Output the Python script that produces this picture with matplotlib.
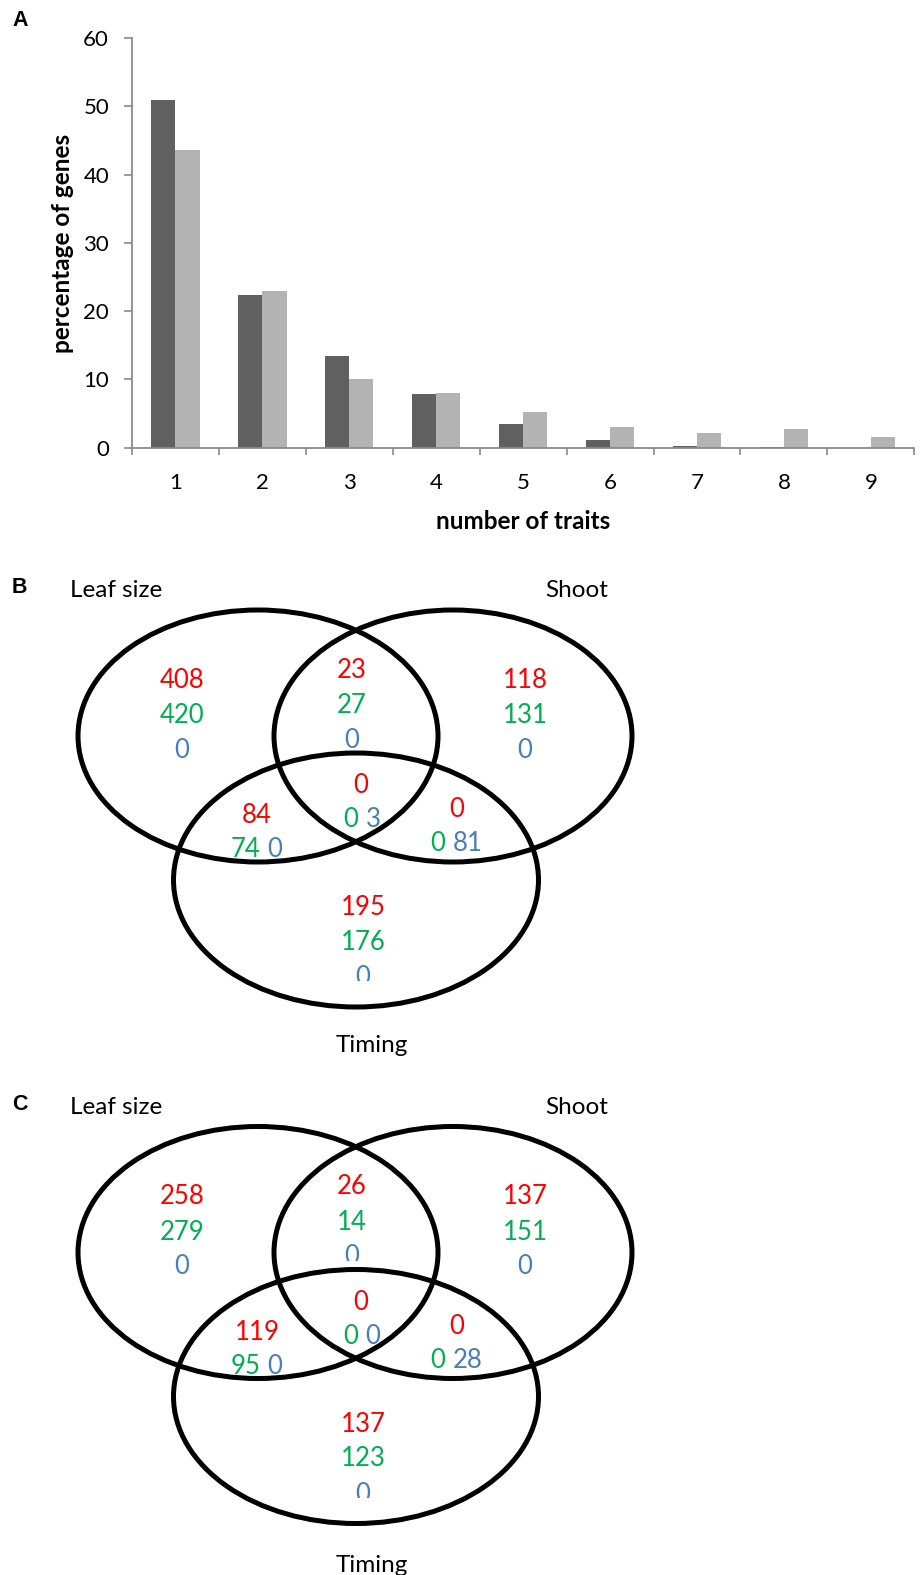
import numpy as np
import matplotlib
matplotlib.use("Agg")
import matplotlib.pyplot as plt
from matplotlib.patches import Ellipse, Rectangle

# panel A: share of genes by number of traits
traits = [1, 2, 3, 4, 5, 6, 7, 8, 9]
pct_dark = [50.9, 22.4, 13.4, 7.8, 3.5, 1.1, 0.25, 0.1, 0.0]
pct_light = [43.6, 23.0, 10.0, 8.0, 5.3, 3.1, 2.1, 2.7, 1.5]

# panels B and C: venn counts, region order:
# leaf only, leaf&shoot, shoot only, leaf&timing, all three, shoot&timing, timing only
set_names = ["Leaf size", "Shoot", "Timing"]
b_red = [408, 23, 118, 84, 0, 0, 195]
b_green = [420, 27, 131, 74, 0, 0, 176]
b_blue = [0, 0, 0, 0, 3, 81, 0]
c_red = [258, 26, 137, 119, 0, 0, 137]
c_green = [279, 14, 151, 95, 0, 0, 123]
c_blue = [0, 0, 0, 0, 0, 28, 0]

RED, GREEN, BLUE = "#ff0000", "#00b050", "#4a7ebb"
FONT = "Lato"

W, H = 922, 1575
fig = plt.figure(figsize=(W / 100, H / 100), dpi=100)

# full-figure canvas in pixel coordinates for venn panels and labels
canvas = fig.add_axes([0, 0, 1, 1])
canvas.set_xlim(0, W)
canvas.set_ylim(H, 0)
canvas.axis("off")


def px_axes(x0, y0, x1, y1):
    return fig.add_axes([x0 / W, 1 - y1 / H, (x1 - x0) / W, (y1 - y0) / H])


# ---- A: bar chart
ax = px_axes(131.7, 38.2, 914.4, 447.7)
x = np.array(traits)
ax.bar(x - 0.14, pct_dark, width=0.28, color="#606060")
ax.bar(x + 0.14, pct_light, width=0.28, color="#b3b3b3")
ax.set_xlim(0.5, 9.5)
ax.set_ylim(0, 60)
ax.set_yticks(range(0, 61, 10))
ax.set_xticks(traits)
ax.set_xticks(np.arange(0.5, 10, 1), minor=True)
axis_grey = "#8a8a8a"
for side in ["top", "right"]:
    ax.spines[side].set_visible(False)
for side in ["left", "bottom"]:
    ax.spines[side].set_color(axis_grey)
    ax.spines[side].set_linewidth(1.3)
ax.tick_params(axis="y", length=5.8, width=1.2, color=axis_grey, pad=10.5, labelsize=16)
ax.tick_params(axis="x", which="major", length=0, pad=18, labelsize=16)
ax.tick_params(axis="x", which="minor", length=5, width=1.2, color=axis_grey)
for lab in ax.get_xticklabels() + ax.get_yticklabels():
    lab.set_family(FONT)

canvas.text(62, 243, "percentage of genes", rotation=90, ha="center", va="center",
            fontsize=17.5, fontweight="bold", family=FONT)
canvas.text(523.5, 529, "number of traits", ha="center", va="baseline",
            fontsize=17.5, fontweight="bold", family=FONT)
canvas.text(12, 26, "A", ha="left", va="baseline", fontsize=15.5,
            fontweight="bold", family="Liberation Sans")

# ---- B and C: venn diagrams
ellipses = [((258, 736), 360, 252), ((453, 736), 358, 252), ((356, 880), 365, 254)]
stack_pos = {0: (182, 688), 1: (352, 678), 2: (525, 688), 6: (363, 915)}
pair_pos = {3: (257, 823, 264, 857), 4: (361, 793, 362, 827), 5: (457, 817, 449, 851)}
step = 35

panels = [
    ("B", 0, b_red, b_green, b_blue, [6]),
    ("C", 516.5, c_red, c_green, c_blue, [1, 6]),
]


def num(xp, yp, val, color, ha="center", clip=False):
    t = canvas.text(xp, yp, str(val), ha=ha, va="baseline", color=color,
                    fontsize=18.5, family=FONT)
    if clip:
        r = Rectangle((xp - 30, yp - 50), 60, 46, transform=canvas.transData)
        t.set_clip_on(True)
        t.set_clip_path(r)


for letter, dy, red, green, blue, clipped in panels:
    for (cx, cy), w, h in ellipses:
        canvas.add_patch(Ellipse((cx, cy + dy), w, h, fill=False, lw=3.6, ec="black"))
    canvas.text(12, 593 + dy, letter, ha="left", va="baseline", fontsize=15.5,
                fontweight="bold", family="Liberation Sans")
    canvas.text(70, 597 + dy, set_names[0], ha="left", va="baseline", fontsize=17.5, family=FONT)
    canvas.text(608, 597 + dy, set_names[1], ha="right", va="baseline", fontsize=17.5, family=FONT)
    canvas.text(372, 1052 + dy * 1.006, set_names[2], ha="center", va="baseline",
                fontsize=17.5, family=FONT)

    for i, (sx, sy) in stack_pos.items():
        num(sx, sy + dy, red[i], RED)
        num(sx, sy + step + dy, green[i], GREEN)
        num(sx, sy + 2 * step + dy, blue[i], BLUE, clip=i in clipped)
    for i, (rx, ry, gx, gy) in pair_pos.items():
        num(rx, ry + dy, red[i], RED)
        num(gx - 3.5, gy + dy, green[i], GREEN, ha="right")
        num(gx + 3.5, gy + dy, blue[i], BLUE, ha="left")

fig.savefig("out.png", dpi=100)
